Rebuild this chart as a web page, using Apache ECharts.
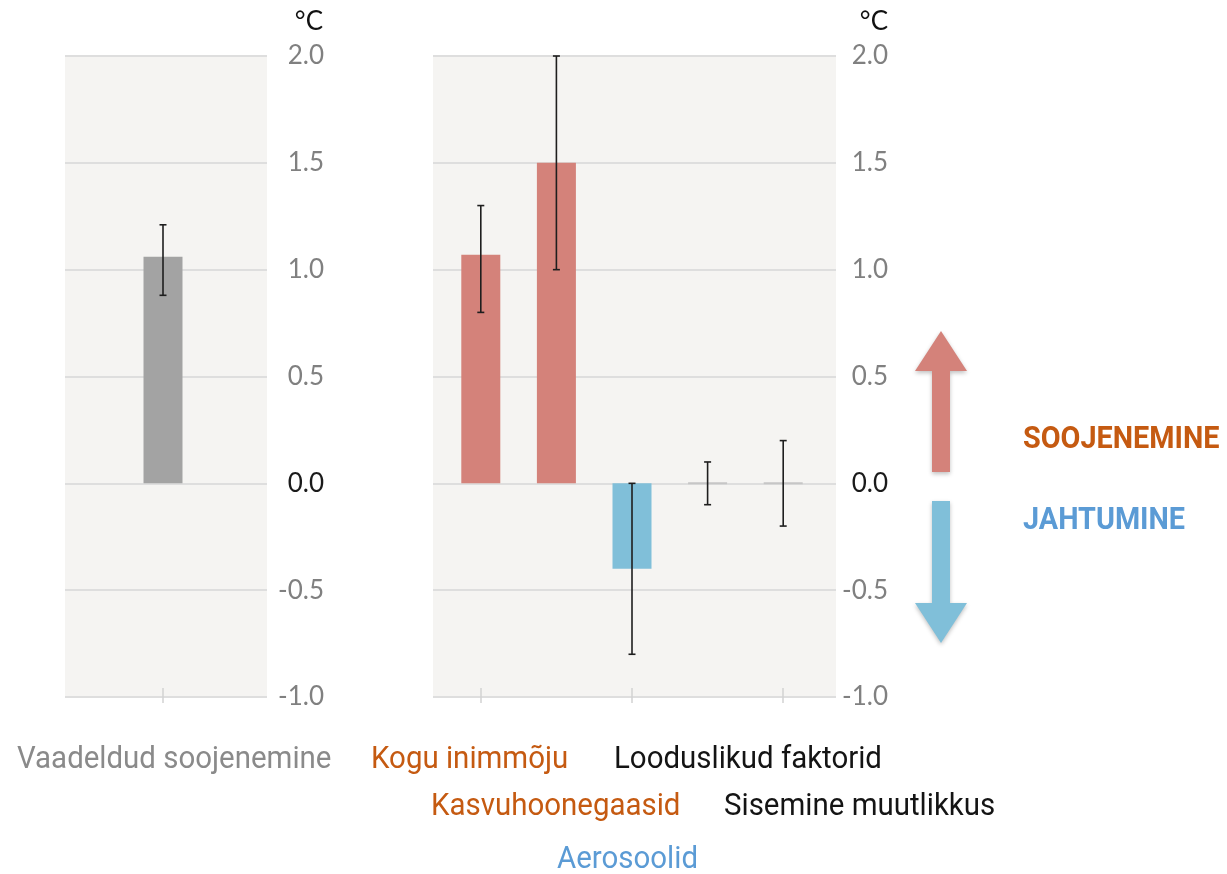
<!DOCTYPE html>
<html>
<head>
<meta charset="utf-8">
<style>
  html, body { margin: 0; padding: 0; background: #ffffff; }
  #chart { width: 1227px; height: 874px; }
</style>
<script src="https://cdn.jsdelivr.net/npm/echarts@6/dist/echarts.min.js"></script>
</head>
<body>
<div id="chart"></div>
<script>
// Observed warming (left panel)
const observedCategories = ['Vaadeldud soojenemine'];
const observedValues = [1.06];
const observedLow = [0.88];
const observedHigh = [1.21];

// Attributed contributions (right panel)
const factorCategories = ['Kogu inimmõju', 'Kasvuhoonegaasid', 'Aerosoolid', 'Looduslikud faktorid', 'Sisemine muutlikkus'];
const factorValues = [1.07, 1.5, -0.4, 0.0, 0.0];
const factorLow = [0.8, 1.0, -0.8, -0.1, -0.2];
const factorHigh = [1.3, 2.0, 0.0, 0.1, 0.2];

// Shared temperature axis
const axisMin = -1.0;
const axisMax = 2.0;
const axisStep = 0.5;
const axisUnit = '°C';

const COLORS = {
  observed: '#a3a3a3',
  warm: '#d4827a',
  cool: '#80bfd9',
  plotBg: '#f5f4f2',
  grid: '#dedede',
  warmText: '#c55a11',
  coolText: '#5b9bd5',
  grayText: '#8a8a8a',
  darkText: '#141414'
};

const factorColors = factorValues.map(v => v >= 0 ? COLORS.warm : COLORS.cool);

const chart = echarts.init(document.getElementById('chart'));

const BAR_W = 39;

function tempAxis(gridIndex, labelMargin, showLabels) {
  return {
    type: 'value',
    gridIndex: gridIndex,
    position: 'right',
    min: axisMin,
    max: axisMax,
    interval: axisStep,
    show: showLabels,
    axisLine: { show: false },
    axisTick: { show: false },
    splitLine: { show: showLabels, lineStyle: { color: COLORS.grid, width: 2 } },
    axisLabel: {
      show: showLabels,
      margin: labelMargin,
      align: 'right',
      fontFamily: 'Lato',
      fontSize: 26,
      color: v => (Math.abs(v) < 1e-9 ? '#1a1a1a' : '#808080'),
      formatter: v => v.toFixed(1)
    }
  };
}

function frameXAxis(gridIndex) {
  return { type: 'category', gridIndex: gridIndex, data: ['x'], show: false };
}

function barXAxis(gridIndex, cats) {
  return {
    type: 'category',
    gridIndex: gridIndex,
    data: cats,
    position: 'bottom',
    offset: -9,
    axisLine: { show: false, onZero: false },
    axisTick: { show: true, alignWithLabel: true, length: 15, lineStyle: { color: '#d2d2d2', width: 1.5 } },
    axisLabel: { show: false },
    splitLine: { show: false }
  };
}

// Error bars (and a flat marker where the central estimate is zero)
function errorRenderer(params, api) {
  const idx = api.value(0);
  const lo = api.coord([idx, api.value(1)]);
  const hi = api.coord([idx, api.value(2)]);
  const mid = api.coord([idx, api.value(3)]);
  const x = lo[0];
  const cap = 3.5;
  const children = [];
  if (api.value(3) === 0) {
    children.push({
      type: 'line',
      shape: { x1: x - BAR_W / 2, y1: mid[1], x2: x + BAR_W / 2, y2: mid[1] },
      style: { stroke: '#c6c6c6', lineWidth: 2 }
    });
  }
  const s = { stroke: '#1e1e1e', lineWidth: 1.6 };
  children.push(
    { type: 'line', shape: { x1: x, y1: lo[1], x2: x, y2: hi[1] }, style: s },
    { type: 'line', shape: { x1: x - cap, y1: lo[1], x2: x + cap, y2: lo[1] }, style: s },
    { type: 'line', shape: { x1: x - cap, y1: hi[1], x2: x + cap, y2: hi[1] }, style: s }
  );
  return { type: 'group', children: children };
}

function errData(values, low, high) {
  return values.map((v, i) => [i, low[i], high[i], v]);
}

// Narrow-set captions: slightly condensed Roboto
const captionFont = '31px Roboto';
const captionScale = 0.95;
const headFont = 'bold 32px Roboto';
const headScale = 0.9;

function caption(text, x, y, fill) {
  return {
    type: 'text', x: x, y: y, scaleX: captionScale,
    style: { text: text, font: captionFont, fill: fill, align: 'left', verticalAlign: 'middle' }
  };
}

function heading(text, x, y, fill) {
  return {
    type: 'text', x: x, y: y, scaleX: headScale,
    style: { text: text, font: headFont, fill: fill, align: 'left', verticalAlign: 'middle' }
  };
}

chart.setOption({
  animation: false,
  grid: [
    // 0: left frame, 1: left bars, 2: right frame, 3: right bars
    { left: 65, right: 960, top: 56, bottom: 177, show: true, backgroundColor: COLORS.plotBg, borderWidth: 0 },
    { left: 59, right: 960, top: 56, bottom: 177 },
    { left: 433, right: 391, top: 56, bottom: 177, show: true, backgroundColor: COLORS.plotBg, borderWidth: 0 },
    { left: 443, right: 406, top: 56, bottom: 177 }
  ],
  xAxis: [
    frameXAxis(0),
    barXAxis(1, observedCategories),
    frameXAxis(2),
    barXAxis(3, factorCategories)
  ],
  yAxis: [
    tempAxis(0, 57, true),
    tempAxis(1, 0, false),
    tempAxis(2, 52, true),
    tempAxis(3, 0, false)
  ],
  series: [
    {
      type: 'bar', xAxisIndex: 1, yAxisIndex: 1, barWidth: BAR_W,
      data: observedValues,
      itemStyle: { color: COLORS.observed }
    },
    {
      type: 'custom', xAxisIndex: 1, yAxisIndex: 1, z: 5,
      renderItem: errorRenderer,
      encode: { x: 0, y: [1, 2] },
      data: errData(observedValues, observedLow, observedHigh)
    },
    {
      type: 'bar', xAxisIndex: 3, yAxisIndex: 3, barWidth: BAR_W,
      data: factorValues.map((v, i) => ({ value: v, itemStyle: { color: factorColors[i] } }))
    },
    {
      type: 'custom', xAxisIndex: 3, yAxisIndex: 3, z: 5,
      renderItem: errorRenderer,
      encode: { x: 0, y: [1, 2] },
      data: errData(factorValues, factorLow, factorHigh)
    }
  ],
  graphic: [
    // unit labels above each temperature axis
    { type: 'text', x: 323, y: 22, style: { text: axisUnit, font: '26px Lato', fill: '#111', align: 'right', verticalAlign: 'middle' } },
    { type: 'text', x: 888, y: 22, style: { text: axisUnit, font: '26px Lato', fill: '#111', align: 'right', verticalAlign: 'middle' } },

    // warming / cooling arrows
    {
      type: 'polygon',
      shape: { points: [[932, 472], [950, 472], [950, 371], [967, 371], [941, 331], [915, 371], [932, 371]] },
      style: { fill: COLORS.warm, shadowBlur: 4, shadowColor: 'rgba(0,0,0,0.25)', shadowOffsetY: 2 }
    },
    {
      type: 'polygon',
      shape: { points: [[932, 501], [950, 501], [950, 603], [967, 603], [941, 643], [915, 603], [932, 603]] },
      style: { fill: COLORS.cool, shadowBlur: 4, shadowColor: 'rgba(0,0,0,0.25)', shadowOffsetY: 2 }
    },
    heading('SOOJENEMINE', 1023, 440, COLORS.warmText),
    heading('JAHTUMINE', 1023, 521, COLORS.coolText),

    // category names below the panels
    caption(observedCategories[0], 17, 760, COLORS.grayText),
    caption(factorCategories[0], 371, 760, COLORS.warmText),
    caption(factorCategories[1], 431, 807, COLORS.warmText),
    caption(factorCategories[2], 557, 860, COLORS.coolText),
    caption(factorCategories[3], 614, 760, COLORS.darkText),
    caption(factorCategories[4], 724, 807, COLORS.darkText)
  ]
});
</script>
</body>
</html>
